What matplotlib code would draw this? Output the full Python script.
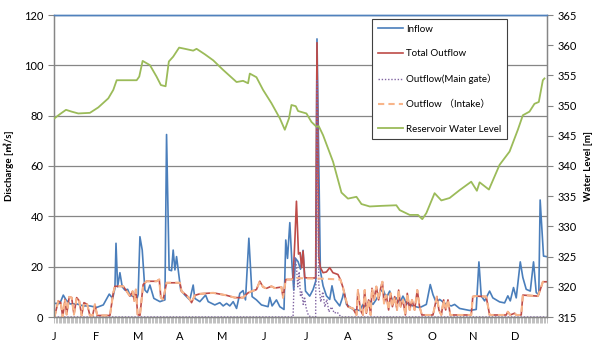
import matplotlib
matplotlib.use("Agg")
import matplotlib.pyplot as plt
from matplotlib.ticker import FixedLocator, MultipleLocator

# ---------------- data (day of year, value) ----------------
inflow_day = [0, 4, 6.5, 8.5, 11.5, 16.4, 21.3, 26.2, 31.2, 36.1, 40.5, 43, 44.7, 45.5, 46.7, 48.4,
              50.1, 52.1, 54.1, 55.8, 58.8, 60.8, 61.9, 63.2, 64.9, 66.9, 68.6, 70.6, 73.5, 78, 81.7,
              82.9, 84.8, 86.6, 87.8, 89.1, 90.3, 91.6, 93.4, 96.5, 100.1, 102.6, 103.8, 107.5, 111.8,
              113.7, 118.6, 122.3, 124.8, 127.3, 129.7, 132.2, 134.7, 137.1, 139.5, 141.3, 143.8, 146.2,
              149.4, 153.1, 158, 159.3, 161, 164.2, 166.7, 169.8, 171.1, 172.4, 174.1, 175.8, 177, 178.3,
              180.2, 182, 183.9, 185.7, 188.8, 191.3, 193.3, 194.2, 196.7, 198.7, 201.2, 203.6, 205.3,
              207.3, 211, 213, 214.2, 216, 220.8, 225.8, 228.2, 230.7, 233.2, 235.6, 238.1, 240.6, 243,
              245.5, 248, 250.4, 252.9, 255.4, 257.8, 260.3, 265.2, 270.1, 275.1, 278, 280, 282.5, 284.9,
              289.9, 293.6, 296, 299.7, 307.1, 312, 314, 315.7, 318.2, 321.9, 324.3, 329.3, 333, 335.4,
              337.2, 339.6, 341.6, 344.6, 346.5, 349, 352, 354.4, 356.4, 358.3, 359.3, 361.8, 364]
inflow_val = [5.4, 5.4, 8.7, 6.8, 5.2, 5.2, 4.4, 4.4, 3.8, 4.8, 9.1, 7.4, 11.4, 29.3, 12, 17.6,
              12, 10.7, 11, 8.7, 8.1, 6.8, 9, 31.9, 26.6, 10.7, 9.7, 12.7, 7.4, 6.1, 6.8,
              72.5, 18.7, 18.4, 26.6, 18.7, 24, 18.5, 10.7, 8.7, 6.8, 12.7, 7.4, 6.1, 8.7,
              6.1, 4.8, 5.7, 4.4, 5.4, 4.4, 6.1, 3.4, 9.4, 10.5, 6.8, 31.3, 8.1,
              6.8, 4.8, 4.1, 7.8, 4.4, 6.8, 4.1, 3.0, 30.6, 23.3, 37.5, 20, 10.7, 23.3,
              22, 19, 26.5, 10.3, 8.3, 10.9, 14.3, 110.5, 18.3, 12.4, 8.4, 7.0, 12.4,
              7.0, 4.4, 7.6, 10.3, 5.0, 3.0, 2.6, 5.0, 3.4, 6.4, 5.0, 7.0, 9.7, 11.0,
              7.6, 10.3, 5.6, 7.6, 5.6, 8.3, 5.6, 4.4, 3.7, 5.0, 12.9, 8.9, 5.6, 7.0,
              5.0, 4.4, 5.0, 3.4, 2.6, 3.0, 21.9, 8.4, 6.4, 10.3, 7.6, 6.0, 5.6, 8.4,
              6.4, 11.7, 7.6, 21.9, 15.7, 11.0, 10.3, 21.9, 9.7, 8.9, 46.5, 24.2, 24]

intake_day = [0, 2.8, 4.6, 6.1, 7.8, 9, 10.9, 12.7, 14.4, 16.4, 18.3, 20.1, 21.8, 24.2, 26.2, 28.2,
              29.9, 31.6, 41, 43.5, 44.7, 50.9, 53.4, 55.8, 57.8, 59, 60.2, 61.5, 63.2, 65.6, 68.1,
              75.5, 77.5, 78.7, 80.4, 82.9, 92.8, 94, 97.7, 100.1, 101.4, 103.8, 107.5, 117.4, 127.3,
              133.4, 139.5, 143.2, 145.8, 149.4, 151.9, 154.3, 156.8, 160.5, 163, 167.9, 169.1, 171.1,
              175.3, 177.8, 190, 200, 211.5, 213.5, 215, 217, 220.8, 223.4, 224.5, 226.3, 228.2, 229.5,
              230.7, 232.4, 233.9, 234.9, 236.4, 238.1, 239.8, 241.3, 242.6, 243.8, 245.5, 247.2, 248.7,
              250, 251.7, 253.4, 254.6, 256.1, 257.8, 259.6, 261, 262.8, 264.5, 266.4, 268.4, 270.1,
              271.8, 280, 282.9, 284.4, 286.2, 287.9, 289.4, 291.1, 292.8, 308.3, 309.5, 311.5, 319.4,
              321.9, 334.2, 335.4, 337.2, 340.4, 341.6, 345.3, 346.5, 357.6, 359.3, 361.3, 364]
intake_val = [0, 6.4, 5.7, 0, 7.0, 1.0, 8.0, 7.7, 1.0, 7.7, 6.4, 0.6, 5.7, 5.0, 0.6, 0.6,
              5.0, 0.6, 0.6, 9.6, 12.2, 12.2, 10.2, 8.3, 10.2, 6.4, 10.9, 1.0, 0.6, 12.9, 14.2,
              14.2, 14.9, 7.7, 7.0, 13.6, 13.6, 10.2, 8.6, 7.0, 5.7, 8.6, 9.2, 9.6, 8.6,
              7.7, 7.7, 9.6, 10.2, 10.9, 14.2, 11.9, 11.4, 12.2, 11.5, 11.9, 7.7, 14.9,
              14.9, 15.5, 15.3, 15.2, 14.9, 11.6, 8.0, 4.1, 3.4, 0.8, 10.7, 2.8, 0.8, 10.7,
              1.5, 6.8, 0.8, 11.4, 6.8, 12.1, 6.8, 11.4, 14.0, 5.4, 8.7, 2.8, 9.4,
              4.1, 8.1, 2.8, 10.7, 4.1, 6.8, 0.8, 9.4, 2.8, 6.8, 2.8, 10.7, 4.1,
              0.8, 0.8, 8.1, 2.8, 0.8, 6.8, 2.8, 6.8, 0.8, 0.8, 8.1, 8.3, 8.1,
              0.8, 0.8, 2.1, 0.8, 1.5, 0.8, 0.8, 8.7, 8.3, 10.7, 14.0, 14.0]

total_day = [0, 2.8, 4.6, 6.1, 7.8, 9, 10.9, 12.7, 14.4, 16.4, 18.3, 20.1, 21.8, 24.2, 26.2, 28.2,
             29.9, 31.6, 41, 43.5, 44.7, 50.9, 53.4, 55.8, 57.8, 59, 60.2, 61.5, 63.2, 65.6, 68.1,
             75.5, 77.5, 78.7, 80.4, 82.9, 92.8, 94, 97.7, 100.1, 101.4, 103.8, 107.5, 117.4, 127.3,
             133.4, 139.5, 143.2, 145.8, 149.4, 151.9, 154.3, 156.8, 160.5, 163, 167.9, 169.1, 171.1,
             175.3, 176.5, 177.8, 179, 180.5, 181.7, 182.9, 183.9, 185.1, 190, 193.2, 194.2, 195.5,
             196.7, 198.7, 201.2, 203.6, 206, 209.7, 211.5, 213.5, 215, 217, 220.8, 223.4, 224.5,
             226.3, 228.2, 229.5, 230.7, 232.4, 233.9, 234.9, 236.4, 238.1, 239.8, 241.3, 242.6, 243.8,
             245.5, 247.2, 248.7, 250, 251.7, 253.4, 254.6, 256.1, 257.8, 259.6, 261, 262.8, 264.5,
             266.4, 268.4, 270.1, 271.8, 280, 282.9, 284.4, 286.2, 287.9, 289.4, 291.1, 292.8, 308.3,
             309.5, 311.5, 319.4, 321.9, 334.2, 335.4, 337.2, 340.4, 341.6, 345.3, 346.5, 357.6, 359.3,
             361.3, 364]
total_val = [0, 6.4, 5.7, 0, 7.0, 1.0, 8.0, 7.7, 1.0, 7.7, 6.4, 0.6, 5.7, 5.0, 0.6, 0.6,
             5.0, 0.6, 0.6, 9.6, 12.2, 12.2, 10.2, 8.3, 10.2, 6.4, 10.9, 1.0, 0.6, 12.9, 14.2,
             14.2, 14.9, 7.7, 7.0, 13.6, 13.6, 10.2, 8.6, 7.0, 5.7, 8.6, 9.2, 9.6, 8.6,
             7.7, 7.7, 9.6, 10.2, 10.9, 14.2, 11.9, 11.4, 12.2, 11.5, 11.9, 7.7, 14.9,
             14.9, 15.5, 30, 46, 25, 25.6, 19.6, 26.2, 15.6, 15.5, 15.5, 109, 24,
             19.6, 17.6, 17.9, 19.6, 17.6, 16.9, 14.9, 11.6, 8.0, 4.1, 3.4, 0.8, 10.7,
             2.8, 0.8, 10.7, 1.5, 6.8, 0.8, 11.4, 6.8, 12.1, 6.8, 11.4, 14.0, 5.4,
             8.7, 2.8, 9.4, 4.1, 8.1, 2.8, 10.7, 4.1, 6.8, 0.8, 9.4, 2.8, 6.8,
             2.8, 10.7, 4.1, 0.8, 0.8, 8.1, 2.8, 0.8, 6.8, 2.8, 6.8, 0.8, 0.8,
             8.1, 8.3, 8.1, 0.8, 0.8, 2.1, 0.8, 1.5, 0.8, 0.8, 8.7, 8.3, 10.7,
             14.0, 14.0]

main_day = [0, 176.5, 177.8, 179, 180, 181, 182, 183, 184, 185, 186, 187, 188, 190, 193.2,
            194.2, 195.5, 197, 198.5, 200, 201.5, 203, 205, 207, 209, 212, 364]
main_val = [0, 0, 24, 20, 12, 18, 8, 10, 5, 8, 4, 2, 0.5, 0, 0,
            94, 13, 6, 10, 4, 7, 2, 4, 1.5, 2, 0, 0]

level_day = [0, 4.1, 8.5, 12.7, 17.6, 26.2, 32.4, 39.8, 43.5, 46, 60.8, 62.7, 65.2, 70.6, 75.5,
             78.7, 82.2, 84.6, 87.8, 92.2, 96.5, 102.6, 105.1, 111.2, 117.4, 124.8, 134.7, 139.5,
             143.2, 144.5, 149.4, 154.3, 160.5, 166.7, 170.4, 173.5, 175.3, 178.5, 180.2, 186.4,
             190.1, 193.8, 195.5, 198.7, 206.1, 212.3, 217.1, 223.4, 227.1, 233.2, 241.8, 252.9,
             255.4, 262.8, 268.9, 272.1, 275.1, 281.2, 286.2, 292.3, 299.7, 308.3, 312.5, 314.5,
             321.4, 329.3, 336.7, 342.8, 346.5, 351.4, 355.1, 358.3, 361.3, 362.5]
level_val = [347.9, 348.6, 349.3, 349.0, 348.7, 348.8, 349.7, 351.2, 352.6, 354.2, 354.2, 354.8,
             357.4, 356.7, 354.8, 353.4, 353.2, 357.3, 358.1, 359.6, 359.4, 359.1, 359.4, 358.5,
             357.5, 355.9, 353.9, 354.1, 353.7, 355.3, 354.7, 352.6, 350.4, 347.9, 346.0, 347.9,
             350.1, 349.9, 349.1, 348.7, 347.3, 346.5, 346.6, 345.1, 340.7, 335.6, 334.6, 334.9,
             333.7, 333.3, 333.4, 333.5, 332.7, 331.9, 331.9, 331.2, 332.2, 335.5, 334.3, 334.7,
             336.0, 337.4, 335.9, 337.3, 336.1, 340.2, 342.4, 346.0, 348.4, 349.0, 350.3, 350.6,
             354.2, 354.5]

month_labels = ["J", "F", "M", "A", "M", "J", "J", "A", "S", "O", "N", "D"]
month_label_days = [0, 31, 62, 93, 124, 155, 186, 217, 248, 279, 310, 341]

# ---------------- style ----------------
FAM = ["Lato", "Noto Sans CJK JP", "DejaVu Sans"]
plt.rcParams["font.family"] = FAM
GRID = "#868686"

fig = plt.figure(figsize=(5.95, 3.42), dpi=100)
ax = fig.add_axes([54.5 / 595, 1 - 317 / 342, 492 / 595, 302 / 342])
ax2 = ax.twinx()

l_in, = ax.plot(inflow_day, inflow_val, color="#4A7EBB", lw=1.2, zorder=2, label="Inflow")
l_tot, = ax.plot(total_day, total_val, color="#BE4B48", lw=1.2, zorder=3, label="Total Outflow")
l_main, = ax.plot(main_day, main_val, color="#8064A2", lw=1.0, ls=(0, (1, 1.3)), zorder=4,
                  label="Outflow(Main gate）", clip_on=False)
l_int, = ax.plot(intake_day, intake_val, color="#F8B58A", lw=1.5, ls=(0, (3, 2)), zorder=5,
                 label="Outflow （Intake）")
l_lev, = ax2.plot(level_day, level_val, color="#9BBB59", lw=1.3, zorder=5,
                  label="Reservoir Water Level")

ax.set_xlim(0, 364)
ax.set_ylim(0, 120)
ax2.set_ylim(315, 365)

ax.yaxis.set_major_locator(MultipleLocator(20))
ax2.yaxis.set_major_locator(MultipleLocator(5))
ax.grid(axis="y", color=GRID, lw=0.9)
ax.set_axisbelow(True)

ax.xaxis.set_major_locator(FixedLocator(month_label_days))
ax.set_xticklabels(month_labels)
ax.xaxis.set_minor_locator(MultipleLocator(1))
ax.tick_params(axis="x", which="both", length=4, width=0.5, color="#A6A6A6",
               labelsize=8, pad=6)
ax.tick_params(axis="y", length=4, width=0.8, color=GRID, labelsize=8, pad=4)
ax2.tick_params(axis="y", length=4, width=0.8, color=GRID, labelsize=8, pad=4)

for a in (ax, ax2):
    for s in ("left", "right", "bottom"):
        a.spines[s].set_color(GRID)
        a.spines[s].set_linewidth(0.9)
    a.spines["top"].set_color("#4F81BD")
    a.spines["top"].set_linewidth(1.0)

ax.set_ylabel("Discharge [㎥/s]", fontsize=7, fontweight="bold", family=FAM, labelpad=7)
ax2.set_ylabel("Water Level [m]", fontsize=7, fontweight="bold", family=FAM, labelpad=5)

leg = ax2.legend(handles=[l_in, l_tot, l_main, l_int, l_lev],
                 loc="upper left", bbox_to_anchor=(372 / 595, 1 - 19 / 342),
                 bbox_transform=fig.transFigure, prop={"family": FAM, "size": 7},
                 frameon=True, fancybox=False, framealpha=1, edgecolor="#404040",
                 labelspacing=1.6, handlelength=2.6, handletextpad=0.3, borderpad=0.6,
                 borderaxespad=0)
leg.get_frame().set_linewidth(0.8)

fig.savefig("out.png", dpi=100)
